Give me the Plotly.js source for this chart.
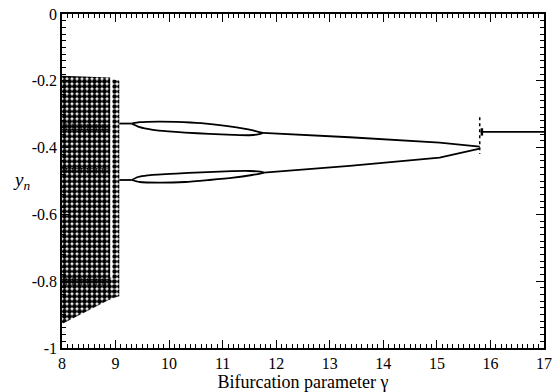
<!DOCTYPE html>
<html>
<head>
<meta charset="utf-8">
<script src="https://cdn.plot.ly/plotly-3.0.1.min.js"></script>
<style>html,body{margin:0;padding:0;background:#fff;}#chart{width:553px;height:392px;}</style>
</head>
<body>
<div id="chart"></div>
<script>
// Chaotic band (x < 9.1): outlines of the dotted cloud
const chaosMainX = [8.0, 8.90, 8.90, 8.0];
const chaosMainY = [-0.185, -0.190, -0.854, -0.928];
const chaosStripX = [8.94, 9.07, 9.07, 8.94];
const chaosStripY = [-0.195, -0.200, -0.845, -0.851];
const chaosBlobX = [8.88, 8.96, 8.96, 8.88];
const chaosBlobY = [-0.790, -0.790, -0.850, -0.856];
// denser bands inside the chaotic cloud
const band1X = [8.0, 8.90, 8.90, 8.0];
const band1Y = [-0.328, -0.330, -0.350, -0.348];
const band2X = [8.0, 8.90, 8.90, 8.0];
const band2Y = [-0.460, -0.462, -0.478, -0.476];
const band3X = [8.0, 8.90, 8.90, 8.0];
const band3Y = [-0.790, -0.792, -0.812, -0.812];

// stubs leaving the chaotic region
const stubUpX = [9.07, 9.30];
const stubUpY = [-0.328, -0.328];
const stubLoX = [9.07, 9.30];
const stubLoY = [-0.497, -0.497];
// period-4 loops and period-2 branches
const upTopX = [9.30, 9.45, 9.80, 10.13, 10.60, 11.06, 11.45, 11.65, 11.75];
const upTopY = [-0.328, -0.324, -0.322, -0.323, -0.327, -0.335, -0.345, -0.352, -0.356];
const upBotX = [9.30, 9.42, 9.60, 9.81, 10.30, 10.75, 11.20, 11.50, 11.68, 11.75];
const upBotY = [-0.328, -0.337, -0.344, -0.349, -0.355, -0.359, -0.362, -0.363, -0.360, -0.356];
const upLineX = [11.75, 13.37, 15.05, 15.80];
const upLineY = [-0.356, -0.369, -0.385, -0.397];
const loTopX = [9.30, 9.42, 9.60, 10.13, 10.60, 11.06, 11.50, 11.70, 11.77];
const loTopY = [-0.497, -0.488, -0.483, -0.478, -0.474, -0.471, -0.470, -0.472, -0.475];
const loBotX = [9.30, 9.45, 9.81, 10.30, 10.75, 11.20, 11.55, 11.72, 11.77];
const loBotY = [-0.497, -0.503, -0.505, -0.503, -0.497, -0.490, -0.482, -0.477, -0.475];
const loLineX = [11.77, 13.37, 15.05, 15.80];
const loLineY = [-0.475, -0.455, -0.430, -0.403];
// transition spike and fixed point
const spikeX = [15.80, 15.80];
const spikeY = [-0.309, -0.419];
const hookX = [15.84, 15.84];
const hookY = [-0.342, -0.364];
const fixedX = [15.82, 17.0];
const fixedY = [-0.353, -0.353];

const xTicks = [8, 9, 10, 11, 12, 13, 14, 15, 16, 17];
const yTickVals = [-1, -0.8, -0.6, -0.4, -0.2, 0];
const yTickText = ['-1', '-0.8', '-0.6', '-0.4', '-0.2', '0'];

function cloud(x, y, sol, size) {
  return {x: x, y: y, type: 'scatter', mode: 'lines', fill: 'toself',
    line: {width: 0, color: 'rgba(0,0,0,0)'}, fillcolor: 'rgba(0,0,0,0)',
    fillpattern: {shape: '.', fgcolor: '#000', bgcolor: 'rgba(255,255,255,0)', size: size, solidity: sol},
    hoverinfo: 'skip', showlegend: false};
}
function curve(x, y, w, sh) {
  return {x: x, y: y, type: 'scatter', mode: 'lines', line: {color: '#000', width: w, shape: sh || 'spline', smoothing: 0.6},
    hoverinfo: 'skip', showlegend: false};
}

const data = [
  cloud(chaosMainX, chaosMainY, 0.75, 5),
  cloud(chaosStripX, chaosStripY, 0.7, 5),
  cloud(chaosBlobX, chaosBlobY, 0.7, 5),
  cloud(band1X, band1Y, 0.6, 3),
  cloud(band2X, band2Y, 0.5, 3),
  cloud(band3X, band3Y, 0.6, 3),
  curve(stubUpX, stubUpY, 1.8, 'linear'),
  curve(stubLoX, stubLoY, 1.8, 'linear'),
  curve(upTopX, upTopY, 1.8),
  curve(upBotX, upBotY, 1.8),
  curve(upLineX, upLineY, 1.8, 'linear'),
  curve(loTopX, loTopY, 1.8),
  curve(loBotX, loBotY, 1.8),
  curve(loLineX, loLineY, 1.8, 'linear'),
  {x: spikeX, y: spikeY, type: 'scatter', mode: 'lines', line: {color: '#000', width: 1.5, dash: 'dot'}, hoverinfo: 'skip', showlegend: false},
  curve(hookX, hookY, 2.5, 'linear'),
  curve(fixedX, fixedY, 1.8, 'linear')
];

const serif = 'Liberation Serif, Times New Roman, serif';
const layout = {
  width: 553, height: 392,
  margin: {l: 62, r: 9, t: 14, b: 44},
  font: {family: serif, color: '#000', size: 16},
  showlegend: false,
  xaxis: {
    range: [8, 17], tickvals: xTicks, ticks: 'inside', ticklen: 8, tickcolor: 'black',
    showline: true, linecolor: 'black', linewidth: 1.5, mirror: 'ticks', showgrid: false, zeroline: false,
    minor: {dtick: 0.1, tick0: 8, ticks: 'inside', ticklen: 4, tickcolor: 'black'},
    title: {text: 'Bifurcation parameter γ', font: {size: 18}, standoff: 0}
  },
  yaxis: {
    range: [-1, 0], tickvals: yTickVals, ticktext: yTickText, ticks: 'inside', ticklen: 8, tickcolor: 'black',
    showline: true, linecolor: 'black', linewidth: 1.5, mirror: 'ticks', showgrid: false, zeroline: false,
    minor: {dtick: 0.02, tick0: 0, ticks: 'inside', ticklen: 4, tickcolor: 'black'}
  },
  annotations: [{
    text: '<i>y</i><sub><i>n</i></sub>', xref: 'paper', yref: 'paper', x: -0.085, y: 0.50,
    xanchor: 'center', yanchor: 'middle', showarrow: false, font: {size: 19}
  }]
};
Plotly.newPlot('chart', data, layout, {displayModeBar: false});
</script>
</body>
</html>
